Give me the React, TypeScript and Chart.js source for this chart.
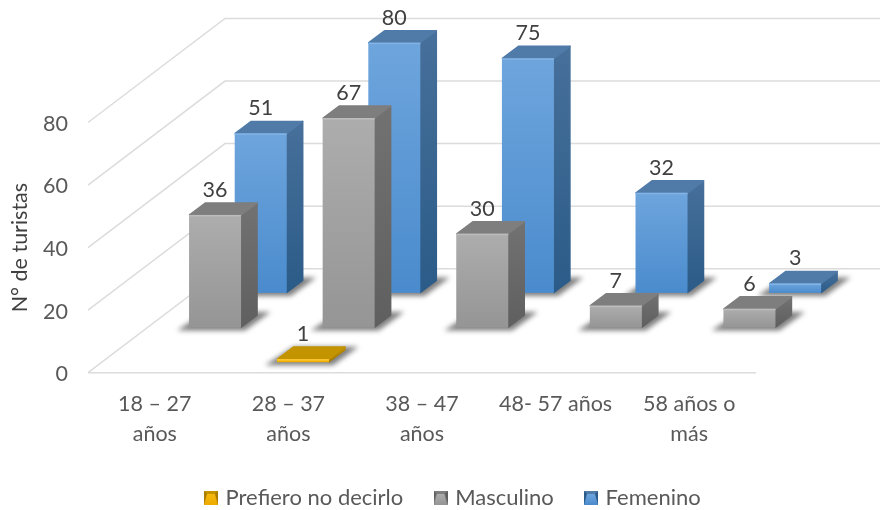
import React, { useEffect, useRef } from "react";
import { Chart, registerables } from "chart.js";

Chart.register(...registerables);

const categories: (string | string[])[] = [
  ["18 – 27", "años"],
  ["28 – 37", "años"],
  ["38 – 47", "años"],
  "48- 57 años",
  ["58 años o", "más"],
];
const prefiero: (number | null)[] = [null, 1, null, null, null];
const masculino: (number | null)[] = [36, 67, 30, 7, 6];
const femenino: (number | null)[] = [51, 80, 75, 32, 3];
const yTicks = [0, 20, 40, 60, 80];

const FONT = "Lato, Carlito, sans-serif";
const WALL_DX = 137;
const WALL_DY = 104;
const BAR_DX = 16.5;
const BAR_DY = 12.5;
const ROWS = 3;

type Skin = { faceTop: string; faceBot: string; sideTop: string; sideBot: string; top: string; rim: string };
const skins: Skin[] = [
  { faceTop: "#f7bb10", faceBot: "#eeaa00", sideTop: "#b98a00", sideBot: "#a87c00", top: "#c39300", rim: "#fcc832" },
  { faceTop: "#adadad", faceBot: "#959595", sideTop: "#727272", sideBot: "#5f5f5f", top: "#7e7e7e", rim: "#bcbcbc" },
  { faceTop: "#6ea5dd", faceBot: "#4a8bcd", sideTop: "#47709b", sideBot: "#2b5b88", top: "#507ba9", rim: "#82b3e4" },
];

function poly(ctx: CanvasRenderingContext2D, pts: number[][]) {
  ctx.beginPath();
  pts.forEach((p, i) => (i ? ctx.lineTo(p[0], p[1]) : ctx.moveTo(p[0], p[1])));
  ctx.closePath();
}

function swatch(s: Skin) {
  const c = document.createElement("canvas");
  c.width = 14;
  c.height = 14;
  const g = c.getContext("2d")!;
  g.fillStyle = s.sideBot;
  g.fillRect(0, 0, 14, 14);
  g.fillStyle = s.top;
  poly(g, [[0, 0], [14, 0], [10, 4], [4, 4]]);
  g.fill();
  const lg = g.createLinearGradient(0, 3, 0, 14);
  lg.addColorStop(0, s.faceTop);
  lg.addColorStop(1, s.faceBot);
  g.fillStyle = lg;
  poly(g, [[3, 3], [11, 3], [14, 14], [0, 14]]);
  g.fill();
  return c;
}

const bars3d = {
  id: "bars3d",
  afterLayout(chart: any) {
    const lg = chart.legend;
    lg.left = 25.5;
    lg.right = 882.5;
    lg.top = 453.4;
    lg.bottom = 536.5;
  },
  beforeDatasetsDraw(chart: any) {
    const ctx: CanvasRenderingContext2D = chart.ctx;
    const y = chart.scales.y;
    const left = chart.chartArea.left;
    const right = chart.chartArea.right;

    ctx.save();
    ctx.strokeStyle = "#dcdcdc";
    ctx.lineWidth = 1.5;
    yTicks.forEach((v) => {
      const py = y.getPixelForValue(v);
      ctx.beginPath();
      ctx.moveTo(left, py);
      ctx.lineTo(left + WALL_DX, py - WALL_DY);
      ctx.lineTo(880, py - WALL_DY);
      ctx.stroke();
    });
    const zero = y.getPixelForValue(0);
    ctx.beginPath();
    ctx.moveTo(left, zero);
    ctx.lineTo(right, zero);
    ctx.stroke();

    const labels: { t: string; x: number; y: number }[] = [];
    for (let d = chart.data.datasets.length - 1; d >= 0; d--) {
      const meta = chart.getDatasetMeta(d);
      const skin = skins[d];
      const frac = (d + 0.5) / ROWS;
      const ox = WALL_DX * frac - BAR_DX / 2;
      const oy = WALL_DY * frac - BAR_DY / 2 - 0.6;
      meta.data.forEach((el: any, i: number) => {
        const v = chart.data.datasets[d].data[i];
        if (v == null) return;
        const x0 = el.x - el.width / 2 + ox;
        const x1 = el.x + el.width / 2 + ox;
        const yb = el.base - oy;
        const yt = el.y - oy;

        // floor shadow
        ctx.save();
        ctx.filter = "blur(2.5px)";
        ctx.fillStyle = "rgba(0,0,0,0.5)";
        poly(ctx, [
          [x0 - 12, yb + 3],
          [x1 + 4, yb + 3],
          [x1 + BAR_DX + 13, yb - BAR_DY - 3],
          [x0 + BAR_DX, yb - BAR_DY - 3],
        ]);
        ctx.fill();
        ctx.restore();

        ctx.lineJoin = "round";
        ctx.lineWidth = 1.5;
        // side
        let g = ctx.createLinearGradient(0, yt - BAR_DY, 0, yb);
        g.addColorStop(0, skin.sideTop);
        g.addColorStop(1, skin.sideBot);
        ctx.fillStyle = g;
        ctx.strokeStyle = g;
        poly(ctx, [[x1, yt], [x1 + BAR_DX - 0.5, yt - BAR_DY + 0.5], [x1 + BAR_DX - 0.5, yb - BAR_DY], [x1, yb - 0.5]]);
        ctx.fill();
        ctx.stroke();
        // top
        ctx.fillStyle = skin.top;
        ctx.strokeStyle = skin.top;
        poly(ctx, [[x0 + 0.5, yt], [x0 + BAR_DX, yt - BAR_DY + 0.5], [x1 + BAR_DX - 0.5, yt - BAR_DY + 0.5], [x1, yt]]);
        ctx.fill();
        ctx.stroke();
        // face
        g = ctx.createLinearGradient(0, yt, 0, yb);
        g.addColorStop(0, skin.faceTop);
        g.addColorStop(1, skin.faceBot);
        ctx.fillStyle = g;
        ctx.fillRect(x0, yt, x1 - x0, yb - yt);
        // bevel rim
        ctx.fillStyle = skin.rim;
        ctx.fillRect(x0, yt, x1 - x0, 1.5);

        labels.push({ t: String(v), x: (x0 + x1) / 2, y: yt - BAR_DY - 12.5 });
      });
    }
    ctx.fillStyle = "#404040";
    ctx.font = "21.5px " + FONT;
    ctx.textAlign = "center";
    ctx.textBaseline = "middle";
    labels.forEach((l) => ctx.fillText(l.t, l.x, l.y));
    ctx.restore();
    return false;
  },
};

export default function App() {
  const ref = useRef<HTMLCanvasElement>(null);
  useEffect(() => {
    const chart = new Chart(ref.current!, {
      type: "bar",
      plugins: [bars3d],
      data: {
        labels: categories,
        datasets: [
          { label: "Prefiero no decirlo", data: prefiero, backgroundColor: "#eeaa00" },
          { label: "Masculino", data: masculino, backgroundColor: "#a5a5a5" },
          { label: "Femenino", data: femenino, backgroundColor: "#5b9bd5" },
        ],
      },
      options: {
        animation: false,
        responsive: false,
        layout: { padding: { top: 122.5, right: 124, left: 0, bottom: 0 } },
        datasets: { bar: { grouped: false, barPercentage: 52 / 133.6, categoryPercentage: 1 } },
        plugins: {
          tooltip: { enabled: false },
          legend: {
            position: "bottom",
            labels: {
              font: { family: FONT, size: 22 },
              color: "#595959",
              usePointStyle: true,
              boxWidth: 7.3,
              padding: 33.6,
              generateLabels(chart: any) {
                const base = Chart.defaults.plugins.legend.labels.generateLabels(chart);
                return base.map((it: any, i: number) => ({ ...it, pointStyle: swatch(skins[i]) }));
              },
            },
          },
        },
        scales: {
          x: {
            afterFit(s: any) { s.height = 71.7; },
            border: { display: false },
            grid: { display: false, drawTicks: false },
            ticks: {
              autoSkip: false,
              maxRotation: 0,
              padding: 16,
              color: "#595959",
              font: { family: FONT, size: 21.5, lineHeight: 1.4 },
            },
          },
          y: {
            min: 0,
            max: 80,
            afterFit(s: any) { s.width = 88; },
            border: { display: false },
            grid: { display: false, drawTicks: false },
            ticks: {
              stepSize: 20,
              padding: 20,
              labelOffset: 1.5,
              color: "#595959",
              font: { family: FONT, size: 21.5 },
            },
            title: {
              display: true,
              text: "N° de turistas",
              color: "#404040",
              font: { family: FONT, size: 21.5 },
              padding: { top: 7, bottom: 0 },
            },
          },
        },
      },
    } as any);
    return () => chart.destroy();
  }, []);
  return (
    <div style={{ position: "absolute", left: 0, top: 0, width: 880, height: 510, background: "#fff" }}>
      <canvas ref={ref} width={880} height={510} style={{ display: "block", filter: "blur(0.4px)" }} />
    </div>
  );
}
